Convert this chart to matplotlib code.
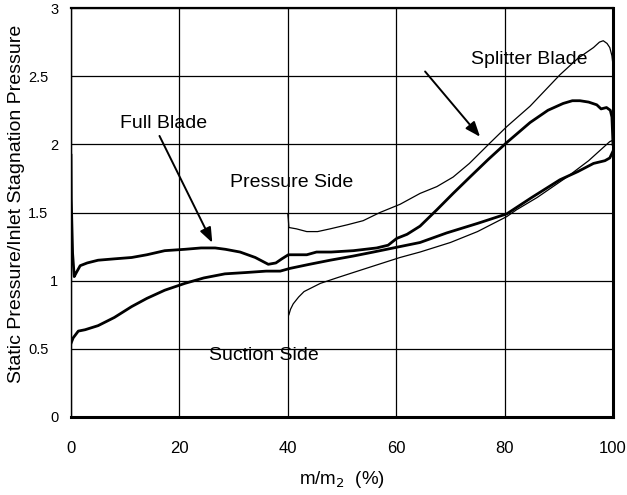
import matplotlib
matplotlib.use("Agg")
import matplotlib.pyplot as plt
from matplotlib.transforms import ScaledTranslation

plt.rcParams['font.family'] = ['Liberation Sans', 'DejaVu Sans']

# Full blade, pressure side (thick)
full_ps_x = [0.0, 0.05, 0.3, 0.6, 1.0, 1.7, 3.0, 5.0, 8.0, 11.2, 14.0, 17.3, 21.0, 24.0, 26.6, 28.5, 31.2,
             34.0, 36.4, 37.8, 38.9, 40.1, 43.5, 45.3, 48.0, 52.1, 56.4, 58.5, 60.1, 62.0, 64.4, 67.5,
             70.5, 73.6, 77.0, 80.3, 84.7, 88.0, 90.8, 92.5, 93.9, 95.5, 97.0, 97.8, 98.8, 99.5,
             99.8, 100.0]
full_ps_y = [1.92, 1.60, 1.20, 1.03, 1.06, 1.11, 1.13, 1.15, 1.16, 1.17, 1.19, 1.22, 1.23, 1.24, 1.24, 1.23, 1.21,
             1.17, 1.12, 1.13, 1.16, 1.19, 1.19, 1.21, 1.21, 1.22, 1.24, 1.26, 1.31, 1.34, 1.40, 1.52,
             1.64, 1.76, 1.89, 2.01, 2.16, 2.25, 2.30, 2.32, 2.32, 2.31, 2.29, 2.26, 2.27, 2.25,
             2.20, 2.00]

# Full blade, suction side (thick)
full_ss_x = [0.0, 0.4, 1.35, 2.6, 5.0, 8.0, 11.2, 14.0, 17.3, 21.0, 24.5, 28.4, 32.4, 36.0, 38.6, 40.4,
             44.0, 47.8, 52.0, 55.8, 60.7, 64.4, 69.3, 75.0, 80.4, 85.0, 90.2, 93.5, 96.4, 98.5, 99.4, 100.0]
full_ss_y = [0.54, 0.58, 0.63, 0.64, 0.67, 0.73, 0.81, 0.87, 0.93, 0.98, 1.02, 1.05, 1.06, 1.07, 1.07, 1.09,
             1.12, 1.15, 1.18, 1.21, 1.25, 1.28, 1.35, 1.42, 1.49, 1.61, 1.74, 1.80, 1.86, 1.88, 1.90, 1.95]

# Splitter blade, pressure side (thin)
spl_ps_x = [40.0, 40.1, 40.2, 41.6, 43.5, 45.5, 47.8, 51.0, 53.9, 57.0, 60.7, 64.4, 67.5, 70.5, 73.5,
            77.3, 80.4, 84.7, 90.2, 93.5, 96.4, 97.5, 98.2, 98.9, 99.4, 99.8, 100.0]
spl_ps_y = [1.49, 1.45, 1.39, 1.38, 1.36, 1.36, 1.38, 1.41, 1.44, 1.50, 1.56, 1.64, 1.69, 1.76, 1.86,
            2.01, 2.13, 2.28, 2.51, 2.63, 2.71, 2.75, 2.76, 2.74, 2.71, 2.65, 2.58]

# Splitter blade, suction side (thin)
spl_ss_x = [40.2, 40.5, 41.0, 42.0, 43.0, 44.5, 46.0, 49.0, 52.1, 56.0, 60.7, 64.4, 70.0, 75.0, 80.4,
            82.2, 86.0, 91.5, 95.5, 99.4, 100.0]
spl_ss_y = [0.75, 0.79, 0.83, 0.88, 0.92, 0.95, 0.98, 1.02, 1.06, 1.11, 1.17, 1.21, 1.28, 1.36, 1.47,
            1.52, 1.61, 1.76, 1.88, 2.02, 2.03]

x_ticks = [0, 20, 40, 60, 80, 100]
y_ticks = [0, 0.5, 1, 1.5, 2, 2.5, 3]
y_tick_labels = ["0", "0.5", "1", "1.5", "2", "2.5", "3"]

fig = plt.figure(figsize=(6.27, 4.95), dpi=100)
ax = fig.add_axes([0.1132, 0.1576, 0.8645, 0.8262])

ax.plot(full_ps_x, full_ps_y, color='black', lw=2.0, zorder=3)
ax.plot(full_ss_x, full_ss_y, color='black', lw=2.0, zorder=3)
ax.plot(spl_ps_x, spl_ps_y, color='black', lw=0.9, zorder=3)
ax.plot(spl_ss_x, spl_ss_y, color='black', lw=0.9, zorder=3)

ax.set_xlim(0, 100)
ax.set_ylim(0, 3)
ax.set_xticks(x_ticks)
ax.set_yticks(y_ticks)
ax.set_yticklabels(y_tick_labels)
ax.tick_params(length=0)
ax.tick_params(axis='y', pad=9, labelsize=10.5)
ax.tick_params(axis='x', pad=17, labelsize=12)
# decimal labels sit further left in the original
for lab in ax.get_yticklabels():
    if '.' in lab.get_text():
        lab.set_transform(lab.get_transform() + ScaledTranslation(-0.10, 0, fig.dpi_scale_trans))

ax.grid(True, color='black', lw=0.9)
ax.set_axisbelow(True)
for side, w in [('left', 1.0), ('bottom', 2.2), ('right', 2.2), ('top', 1.6)]:
    ax.spines[side].set_linewidth(w)

ax.set_xlabel("m/m$_2$  (%)", fontsize=13.5, labelpad=10)
ax.set_ylabel("Static Pressure/Inlet Stagnation Pressure", fontsize=14)
ax.yaxis.set_label_coords(-0.085, 0.52)

text_kw = dict(fontsize=14, color='black')
arrow_kw = dict(arrowstyle='-|>,head_length=0.9,head_width=0.35', color='black', lw=1.4)
ax.annotate("", xy=(26.3, 1.26), xytext=(16.1, 2.08), arrowprops=arrow_kw)
ax.text(17.0, 2.15, "Full Blade", ha='center', va='center', **text_kw)
ax.annotate("", xy=(75.8, 2.04), xytext=(65.0, 2.55), arrowprops=arrow_kw)
ax.text(84.5, 2.62, "Splitter Blade", ha='center', va='center', **text_kw)
ax.text(40.7, 1.72, "Pressure Side", ha='center', va='center', **text_kw)
ax.text(35.5, 0.45, "Suction Side", ha='center', va='center', **text_kw)

fig.savefig("out.png", dpi=100)
